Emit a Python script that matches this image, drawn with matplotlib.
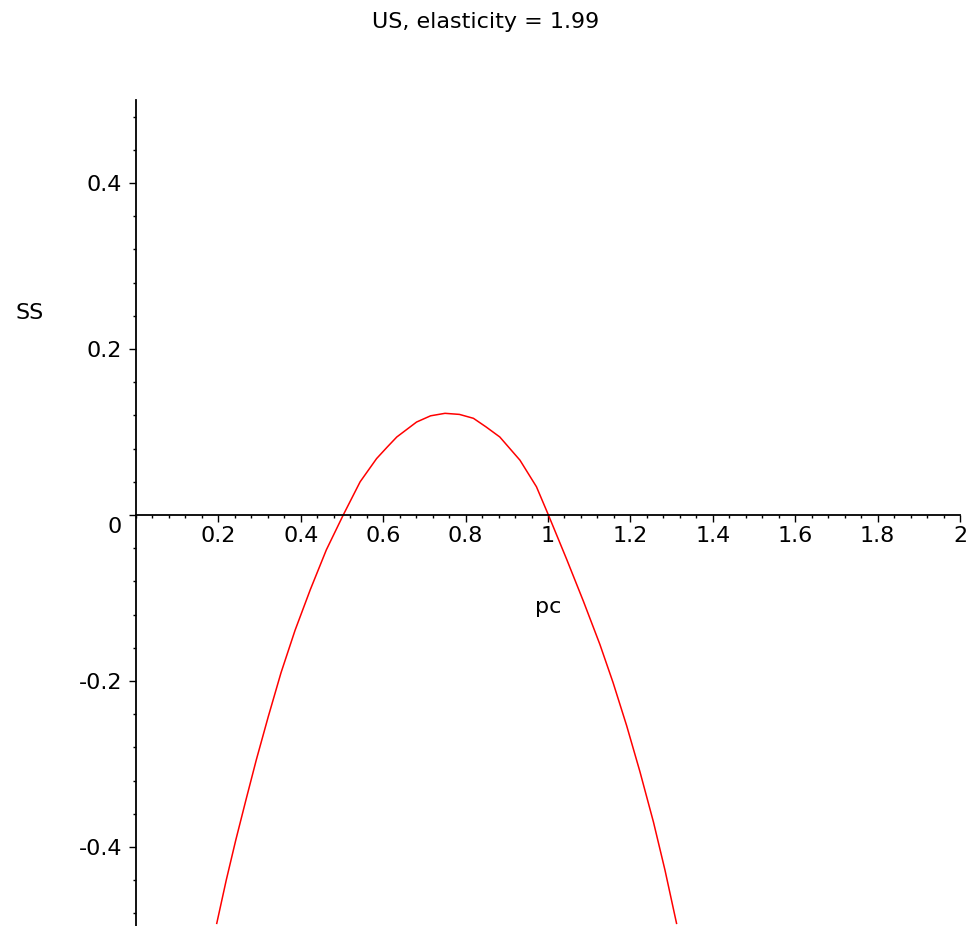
import matplotlib
matplotlib.use("Agg")
import matplotlib.pyplot as plt
from matplotlib.ticker import MultipleLocator

# SS against pc
pc = [0.196, 0.219, 0.242, 0.267, 0.292, 0.321, 0.352, 0.386, 0.423, 0.462,
      0.503, 0.544, 0.584, 0.610, 0.633, 0.681, 0.715, 0.750, 0.785, 0.819,
      0.850, 0.883, 0.932, 0.972,
      1.001, 1.045, 1.086, 1.126, 1.158, 1.191, 1.223, 1.256, 1.284, 1.312]
ss = [-0.492, -0.440, -0.392, -0.343, -0.295, -0.243, -0.190, -0.139, -0.090, -0.042,
      0.000, 0.040, 0.068, 0.082, 0.094, 0.112, 0.1195, 0.1225, 0.1212, 0.1165,
      0.106, 0.094, 0.066, 0.034,
      0.000, -0.053, -0.104, -0.156, -0.202, -0.254, -0.309, -0.370, -0.428, -0.492]

x_ticks = [0.2, 0.4, 0.6, 0.8, 1.0, 1.2, 1.4, 1.6, 1.8, 2.0]
x_labels = ["0.2", "0.4", "0.6", "0.8", "1", "1.2", "1.4", "1.6", "1.8", "2"]
y_ticks = [-0.4, -0.2, 0.0, 0.2, 0.4]
y_labels = ["-0.4", "-0.2", "", "0.2", "0.4"]

title = "US, elasticity = 1.99"

W, H = 972, 926
FS = 16
plt.rcParams["font.family"] = ["DejaVu Sans"]
plt.rcParams["font.size"] = FS

fig = plt.figure(figsize=(W / 100, H / 100), dpi=100)
ax = fig.add_axes([136 / W, (H - 930) / H, (960 - 136) / W, 830 / H])

ax.plot(pc, ss, color="#ff0000", lw=1.1)

ax.set_xlim(0, 2)
ax.set_ylim(-0.5, 0.5)
for side in ("top", "right"):
    ax.spines[side].set_visible(False)
ax.spines["left"].set_position(("data", 0))
ax.spines["bottom"].set_position(("data", 0))
for side in ("left", "bottom"):
    ax.spines[side].set_linewidth(1.3)

ax.set_xticks(x_ticks, x_labels)
ax.set_yticks(y_ticks, y_labels)
ax.xaxis.set_minor_locator(MultipleLocator(0.04))
ax.yaxis.set_minor_locator(MultipleLocator(0.04))
ax.tick_params(which="major", direction="out", length=5, width=1, pad=3, labelsize=FS)
ax.tick_params(which="minor", direction="out", length=2.5, width=1)
ax.tick_params(axis="y", which="major", pad=5)

# the zero label sits a little below the x axis
ax.annotate("0", xy=(0, 0), xytext=(-14, -12), textcoords="offset pixels",
            ha="right", va="center", fontsize=FS)

fig.text(0.5, 1 - 22 / H, title, ha="center", va="center", fontsize=FS)
fig.text(30 / W, 1 - 313 / H, "SS", ha="center", va="center", fontsize=FS)
fig.text(548 / W, 1 - 607 / H, "pc", ha="center", va="center", fontsize=FS)

fig.savefig("out.png", dpi=100)
